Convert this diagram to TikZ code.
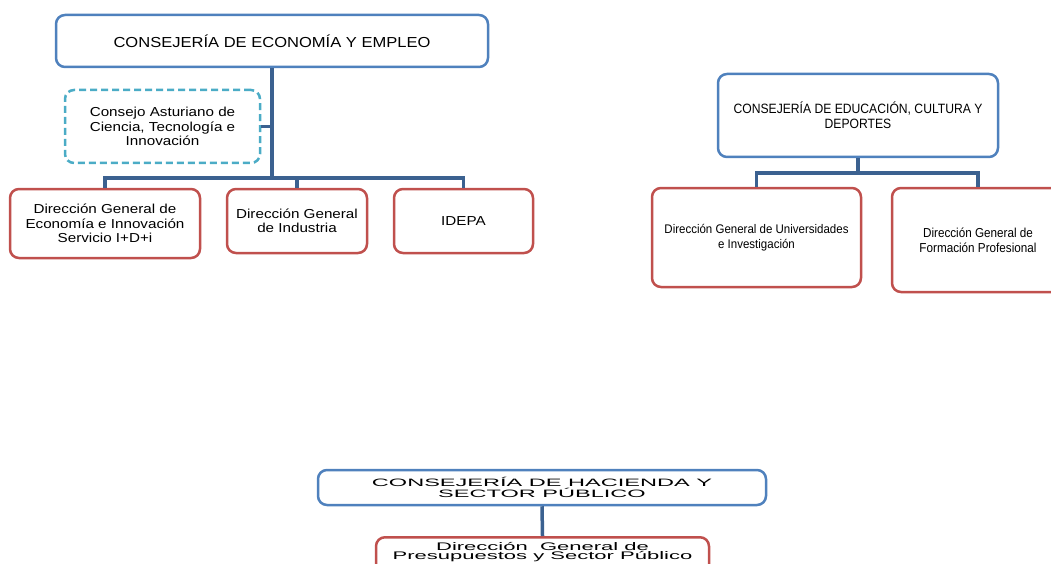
\documentclass[tikz,border=0pt]{standalone}
\usepackage{fontspec}
\setmainfont{Liberation Sans}
\newfontfamily\fA[FakeStretch=1.14]{Liberation Sans}
\newfontfamily\fB[FakeStretch=1.17]{Liberation Sans}
\newfontfamily\fC[FakeStretch=0.9]{Liberation Sans}
\newfontfamily\fE[FakeStretch=0.92]{Liberation Sans}
\newfontfamily\fD[FakeStretch=2.2]{Liberation Sans}
\newfontfamily\fF[FakeStretch=2.0]{Liberation Sans}
\definecolor{boxblue}{HTML}{4F81BD}
\definecolor{boxred}{HTML}{C0504D}
\definecolor{boxteal}{HTML}{4BACC6}
\definecolor{connblue}{HTML}{3B6190}
\tikzset{
  base/.style={draw, fill=white, rounded corners=9pt, line width=2.5pt, align=center, inner sep=2pt},
  bluebox/.style={base, draw=boxblue},
  redbox/.style={base, draw=boxred},
  tealbox/.style={base, draw=boxteal, dash pattern=on 7pt off 4pt},
  conn/.style={draw=connblue, line width=3.5pt}
}
\begin{document}
\begin{tikzpicture}[x=1pt,y=-1pt]
\useasboundingbox (0,0) rectangle (1051,564);
\clip (0,0) rectangle (1051,564);
% ---- Consejería de Economía y Empleo
\node[bluebox, minimum width=432pt, minimum height=52pt, font=\fA\fontsize{14.5}{16}\selectfont] (A) at (272,41) {CONSEJERÍA DE ECONOMÍA Y EMPLEO};
\node[tealbox, minimum width=195pt, minimum height=73pt, font=\fB\fontsize{13}{14.5}\selectfont] (CA) at (162.5,126.5) {Consejo Asturiano de\\Ciencia, Tecnología e\\Innovación};
\node[redbox, minimum width=190pt, minimum height=69pt, font=\fB\fontsize{13}{14.5}\selectfont] (B1) at (105,223.5) {Dirección General de\\Economía e Innovación\\Servicio I+D+i};
\node[redbox, minimum width=140pt, minimum height=64pt, font=\fB\fontsize{13}{14.5}\selectfont] (B2) at (297,221) {Dirección General\\de Industria};
\node[redbox, minimum width=139pt, minimum height=64pt, font=\fB\fontsize{13}{14.5}\selectfont] (B3) at (463.5,221) {IDEPA};
\coordinate (barA) at (272,178);
\draw[conn] (A.south) -- (barA);
\draw[conn] (B1.north) -- (B1.north |- barA) -- (B3.north |- barA) -- (B3.north);
\draw[conn] (B2.north) -- (B2.north |- barA);
\draw[conn] (CA.east) -- (CA.east -| A.south);
% ---- Consejería de Educación
\node[bluebox, minimum width=280pt, minimum height=83pt, font=\fC\fontsize{13.5}{15}\selectfont] (E) at (858,115.5) {CONSEJERÍA DE EDUCACIÓN, CULTURA Y\\DEPORTES};
\node[redbox, minimum width=209pt, minimum height=99pt, font=\fE\fontsize{12.5}{14.7}\selectfont] (C1) at (756.5,237.5) {Dirección General de Universidades\\e Investigación};
\node[redbox, minimum width=172pt, minimum height=104pt, font=\fC\fontsize{13}{15}\selectfont] (C2) at (978,240) {Dirección General de\\Formación Profesional};
\coordinate (barE) at (858,173);
\draw[conn] (E.south) -- (barE);
\draw[conn] (C1.north) -- (C1.north |- barE) -- (C2.north |- barE) -- (C2.north);
% ---- Consejería de Hacienda
\node[bluebox, minimum width=448pt, minimum height=35pt, font=\fD\fontsize{10.7}{11}\selectfont] (H) at (542,487.5) {CONSEJERÍA DE HACIENDA Y\\SECTOR PÚBLICO};
\node[redbox, anchor=north, minimum width=333pt, minimum height=40pt, inner ysep=5pt, font=\fF\fontsize{11}{9.5}\selectfont] (D) at (542.5,536) {Dirección\ \ General de\\Presupuestos y Sector Público\\[10pt]\mbox{}};
\draw[conn] (H.south) -- (D.north);
\end{tikzpicture}
\end{document}
